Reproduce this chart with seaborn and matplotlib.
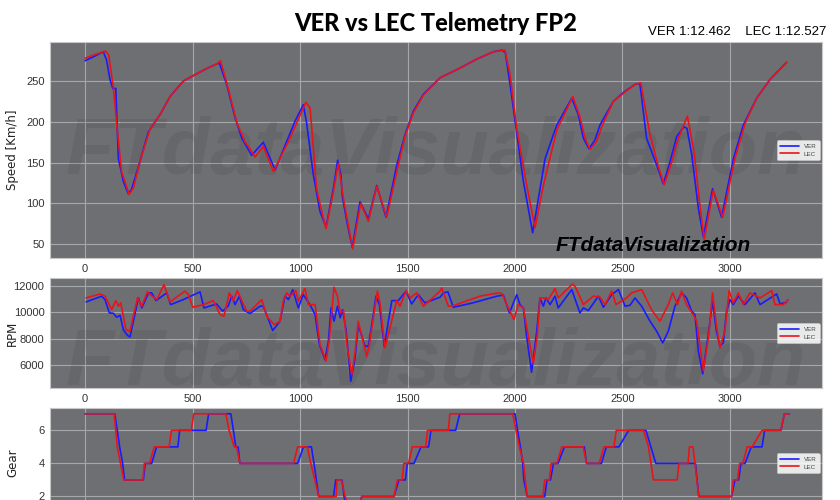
import matplotlib
matplotlib.use("Agg")
import matplotlib.pyplot as plt
import seaborn as sns
import pandas as pd

# ---------------- data ----------------
ver_speed_dist = [0, 40, 85, 100, 116, 129, 143, 155, 178, 201, 216, 248, 295, 349, 395, 457, 519, 570, 612,
                  625, 659, 698, 729, 775, 829, 884, 938, 977, 1015, 1030, 1062, 1093, 1121, 1155, 1175, 1190,
                  1197, 1220, 1243, 1279, 1318, 1357, 1400, 1450, 1488, 1527, 1574, 1651, 1744, 1822, 1899, 1940,
                  1955, 1977, 2039, 2082, 2140, 2194, 2264, 2294, 2318, 2344, 2372, 2395, 2457, 2504, 2558, 2581,
                  2612, 2659, 2690, 2721, 2752, 2786, 2800, 2822, 2853, 2876, 2919, 2961, 3016, 3062, 3124, 3186,
                  3263]
ver_speed = [275, 280, 286, 276, 252, 241, 241, 155, 127, 112, 117, 145, 188, 209, 231, 250, 259, 266, 271,
             272, 246, 205, 180, 159, 175, 141, 176, 201, 221, 200, 135, 90, 71, 118, 153, 135,
             108, 75, 46, 102, 81, 122, 83, 147, 184, 213, 234, 254, 266, 277, 286, 288,
             285, 246, 127, 64, 155, 196, 229, 209, 180, 167, 178, 196, 225, 236, 246, 247,
             180, 147, 124, 151, 182, 194, 192, 160, 94, 59, 118, 83, 155, 196, 229, 252,
             273]

lec_speed_dist = [0, 40, 95, 110, 132, 147, 170, 205, 225, 256, 302, 349, 395, 457, 519, 570, 612, 630, 643,
                  667, 706, 745, 767, 791, 829, 876, 946, 1027, 1047, 1077, 1101, 1121, 1155, 1178, 1202, 1245,
                  1282, 1318, 1357, 1403, 1457, 1488, 1527, 1574, 1651, 1744, 1822, 1899, 1953, 1977, 2008, 2054,
                  2093, 2132, 2194, 2269, 2302, 2326, 2349, 2380, 2403, 2457, 2504, 2558, 2585, 2628, 2667, 2694,
                  2729, 2760, 2802, 2833, 2860, 2880, 2922, 2966, 3023, 3070, 3124, 3186, 3263]
lec_speed = [278, 282, 287, 282, 242, 198, 139, 111, 119, 152, 191, 209, 231, 250, 259, 266, 271, 275, 263,
             240, 199, 175, 167, 157, 170, 139, 176, 224, 217, 118, 90, 69, 114, 149, 106, 44,
             100, 78, 121, 83, 147, 182, 211, 233, 254, 266, 277, 286, 288, 258, 192, 123,
             70, 122, 190, 231, 206, 180, 166, 176, 194, 225, 235, 246, 248, 184, 145, 123,
             151, 180, 207, 163, 98, 56, 116, 83, 155, 198, 229, 252, 273]

ver_rpm_dist = [5, 77, 93, 113, 132, 147, 163, 178, 197, 209, 225, 248, 264, 295, 310, 330, 380, 398, 457, 535,
                553, 612, 640, 667, 682, 698, 718, 736, 767, 814, 829, 873, 907, 930, 946, 966, 992, 1015,
                1046, 1070, 1090, 1116, 1132, 1144, 1158, 1174, 1187, 1198, 1214, 1236, 1256, 1271, 1302, 1318,
                1341, 1353, 1369, 1392, 1427, 1457, 1493, 1519, 1550, 1581, 1651, 1667, 1688, 1713, 1806, 1915,
                1946, 1974, 2008, 2023, 2039, 2054, 2077, 2101, 2116, 2132, 2144, 2163, 2186, 2201, 2264, 2302,
                2318, 2341, 2388, 2411, 2450, 2481, 2512, 2535, 2558, 2589, 2628, 2659, 2687, 2713, 2744, 2775,
                2798, 2822, 2837, 2853, 2873, 2899, 2919, 2937, 2953, 2969, 2984, 3000, 3015, 3039, 3070, 3116,
                3140, 3217, 3233, 3263]
ver_rpm = [10785, 11218, 10960, 9950, 9920, 9620, 9770, 8680, 8250, 8125, 9320, 11090, 10330, 11470, 11470,
           10885, 11470, 10580, 10960, 11545, 10330, 10630, 10080, 10500, 11220, 10580, 11220, 10200, 9900,
           10460, 10460, 8610, 9320, 11220, 10960, 11720, 10330, 11340, 10580, 9820, 7540, 6400, 7790, 10330,
           9320, 10460, 9570, 10200, 8680, 4760, 6530, 9060, 7420, 7420, 9820, 11220, 10580, 7420, 10885,
           10885, 11600, 10630, 11340, 10710, 11140, 11470, 11545, 10380, 10720, 11220, 11300, 9950, 11340,
           10580, 10330, 8180, 5445, 8560, 11090, 10460, 11090, 10580, 11220, 10330, 11720, 9950, 10330,
           10130, 11220, 10380, 11340, 11720, 10460, 10530, 11090, 10460, 9320, 8560, 7670, 8560, 10460,
           11470, 11090, 10080, 9820, 7040, 5320, 8300, 10840, 8560, 7420, 7670, 10080, 10960, 10580, 11220,
           10580, 11470, 10580, 11390, 10630, 10760]

lec_rpm_dist = [5, 70, 93, 124, 143, 155, 166, 190, 209, 244, 264, 290, 303, 334, 367, 395, 465, 481, 501, 551,
                597, 628, 646, 671, 690, 708, 752, 767, 822, 845, 880, 907, 922, 938, 953, 980, 992, 1023,
                1039, 1070, 1093, 1121, 1136, 1158, 1174, 1187, 1203, 1218, 1241, 1256, 1271, 1310, 1322, 1345,
                1360, 1372, 1395, 1450, 1465, 1493, 1512, 1543, 1574, 1651, 1659, 1690, 1713, 1837, 1922, 1940,
                1962, 1995, 2015, 2039, 2062, 2085, 2104, 2116, 2132, 2155, 2186, 2201, 2268, 2280, 2318, 2364,
                2395, 2419, 2450, 2470, 2519, 2542, 2589, 2635, 2674, 2713, 2733, 2756, 2775, 2798, 2829, 2845,
                2876, 2899, 2919, 2937, 2953, 2976, 2996, 3015, 3039, 3062, 3093, 3140, 3194, 3209, 3248, 3271]
lec_rpm = [11090, 11390, 11220, 10200, 10885, 10460, 10710, 8680, 8560, 11090, 10460, 11545, 11340, 10960,
           12100, 10785, 11600, 11340, 10380, 10580, 10885, 9820, 9700, 11470, 10885, 11640, 10080, 10080,
           10960, 9700, 9060, 9320, 10840, 11470, 11220, 11640, 10840, 11800, 10580, 10580, 7540, 6280, 7900,
           11900, 11220, 9950, 10100, 7540, 5270, 7000, 9320, 6650, 7500, 10000, 11600, 10700, 7290, 10885,
           10460, 11640, 11090, 11470, 10460, 11600, 11850, 10460, 10500, 11220, 11470, 11400, 10580, 9440,
           10580, 10330, 8180, 6100, 8300, 11090, 11090, 10960, 11800, 11090, 12150, 11950, 10580, 11220,
           11150, 10580, 11600, 10580, 11090, 11470, 11720, 10200, 9320, 10580, 11470, 10580, 11600, 10580,
           9820, 9320, 5570, 8000, 11470, 9000, 7290, 8560, 11640, 10710, 11470, 10580, 11470, 11090, 11640,
           10580, 10580, 10960]

ver_gear_dist = [0, 138, 150, 161, 175, 184, 271, 280, 310, 333, 432, 440, 563, 575, 678, 690, 701, 712, 720,
                 989, 1016, 1053, 1065, 1076, 1087, 1156, 1166, 1195, 1205, 1218, 1270, 1287, 1437, 1460, 1490,
                 1499, 1530, 1563, 1598, 1609, 1724, 1743, 2000, 2012, 2025, 2036, 2041, 2057, 2138, 2149, 2165,
                 2179, 2200, 2230, 2322, 2333, 2402, 2425, 2483, 2529, 2609, 2632, 2655, 2839, 2855, 3007, 3023,
                 3040, 3051, 3070, 3099, 3149, 3161, 3237, 3253, 3276]
ver_gear = [7, 7, 6, 5, 4, 3, 3, 4, 4, 5, 5, 6, 6, 7, 7, 6, 5, 5, 4,
            4, 5, 5, 4, 3, 2, 2, 3, 3, 2, 1, 1, 2, 2, 3, 3,
            4, 4, 5, 5, 6, 6, 7, 7, 6, 5, 4, 3, 2, 2, 3, 3,
            4, 4, 5, 5, 4, 4, 5, 5, 6, 6, 5, 4, 4, 2, 2, 3,
            3, 4, 4, 5, 5, 6, 6, 7, 7]

lec_gear_dist = [0, 135, 143, 150, 165, 180, 269, 276, 300, 322, 391, 402, 494, 506, 655, 670, 694, 705, 720,
                 970, 989, 1034, 1050, 1069, 1087, 1168, 1172, 1192, 1210, 1237, 1275, 1287, 1437, 1453, 1475,
                 1483, 1505, 1522, 1585, 1593, 1690, 1697, 1989, 2005, 2020, 2040, 2048, 2057, 2130, 2138, 2160,
                 2168, 2195, 2218, 2317, 2333, 2391, 2414, 2460, 2471, 2598, 2621, 2644, 2754, 2763, 2805, 2811,
                 2828, 2855, 3007, 3016, 3035, 3045, 3060, 3080, 3103, 3149, 3237, 3253, 3276]
lec_gear = [7, 7, 6, 5, 4, 3, 3, 4, 4, 5, 5, 6, 6, 7, 7, 6, 5, 5, 4,
            4, 5, 5, 4, 3, 2, 2, 3, 3, 2, 1, 1, 2, 2, 3, 3,
            4, 4, 5, 5, 6, 6, 7, 7, 6, 5, 4, 3, 2, 2, 3, 3,
            4, 4, 5, 5, 4, 4, 5, 5, 6, 6, 5, 3, 3, 4, 4, 5,
            5, 2, 2, 3, 3, 4, 4, 5, 5, 6, 6, 7, 7]

drivers = ["VER", "LEC"]
driver_colors = {"VER": "#1a1aff", "LEC": "#e8141b"}
title_text = "VER vs LEC Telemetry FP2"
laptimes_text = "VER 1:12.462    LEC 1:12.527"
watermark = "FTdataVisualization"

# ---------------- style ----------------
sns.set_style("darkgrid", {
    "axes.facecolor": "#6e6f73",
    "grid.color": "#a6a7aa",
    "axes.edgecolor": "#c4c4c4",
})
plt.rcParams["font.family"] = ["Liberation Sans Narrow", "Liberation Sans", "DejaVu Sans"]

W, H = 840, 500
fig = plt.figure(figsize=(8.4, 5.0), dpi=100)
fig.patch.set_facecolor("white")


def px_axes(left, top, right, bottom):
    return fig.add_axes([left / W, 1 - bottom / H, (right - left) / W, (bottom - top) / H])


ax_s = px_axes(50, 42, 822, 258)
ax_r = px_axes(50, 278, 822, 388)
ax_g = px_axes(50, 408, 822, 518)


def long_df(series):
    rows = []
    for drv, dist, vals in series:
        rows.append(pd.DataFrame({"Distance": dist, "Value": vals, "Driver": drv}))
    return pd.concat(rows, ignore_index=True)


speed_df = long_df([("VER", ver_speed_dist, ver_speed), ("LEC", lec_speed_dist, lec_speed)])
rpm_df = long_df([("VER", ver_rpm_dist, ver_rpm), ("LEC", lec_rpm_dist, lec_rpm)])
gear_df = long_df([("VER", ver_gear_dist, ver_gear), ("LEC", lec_gear_dist, lec_gear)])

for ax, df, ylabel in [(ax_s, speed_df, "Speed [Km/h]"), (ax_r, rpm_df, "RPM"), (ax_g, gear_df, "Gear")]:
    sns.lineplot(data=df, x="Distance", y="Value", hue="Driver", hue_order=drivers,
                 palette=driver_colors, sort=False, estimator=None, linewidth=1.2, ax=ax, zorder=3)
    ax.set_xlabel("")
    ax.set_ylabel(ylabel, fontsize=8.5, family=["DejaVu Sans"], color="#222222")
    ax.yaxis.set_label_coords(-0.04, 0.5)
    ax.tick_params(axis="both", labelsize=8, colors="#333333", length=0, pad=4)
    ax.grid(True, color="#a6a7aa", linewidth=0.8)
    for sp in ax.spines.values():
        sp.set_visible(True)
        sp.set_color("#c8c8c8")
        sp.set_linewidth(0.8)
    leg = ax.legend(loc="center right", fontsize=4.5, handlelength=3, frameon=True,
                    borderaxespad=0.4, labelspacing=0.4, borderpad=0.5)
    leg.get_frame().set_facecolor("white")
    leg.get_frame().set_alpha(0.85)
    leg.get_frame().set_edgecolor("#cccccc")
    leg.get_frame().set_linewidth(0.5)
    for t in leg.get_texts():
        t.set_color("#444444")

for ax in (ax_s, ax_r, ax_g):
    ax.set_xlim(-163, 3428)
ax_s.set_ylim(33, 298)
ax_r.set_ylim(4250, 12600)
ax_g.set_ylim(0.7, 7.35)
ax_s.set_yticks([50, 100, 150, 200, 250])
ax_r.set_yticks([6000, 8000, 10000, 12000])
ax_g.set_yticks([2, 4, 6])
# the gear panel's distance labels fall below the visible canvas in the reference
ax_g.tick_params(axis="x", labelbottom=False)

# big faint watermarks inside the speed and rpm panels
for ax, yb in [(ax_s, 0.39), (ax_r, 0.03)]:
    ax.text(0.02, yb, watermark, transform=ax.transAxes, fontsize=57, fontweight="bold",
            fontstyle="italic", color="black", alpha=0.07, ha="left", va="baseline", zorder=1, clip_on=True)
# small signature
ax_s.text((556 - 50) / 772, (258 - 251) / 216, watermark, transform=ax_s.transAxes, fontsize=15,
          fontweight="bold", fontstyle="italic", color="black", ha="left", va="baseline", zorder=4)

fig.text(436 / W, 1 - 31 / H, title_text, ha="center", va="baseline", fontsize=17, fontweight=900,
         family=["Lato", "Liberation Sans", "DejaVu Sans"], color="black")
fig.text(826 / W, 1 - 35 / H, laptimes_text, ha="right", va="baseline", fontsize=9.5, color="black")

fig.savefig("out.png", dpi=100)
